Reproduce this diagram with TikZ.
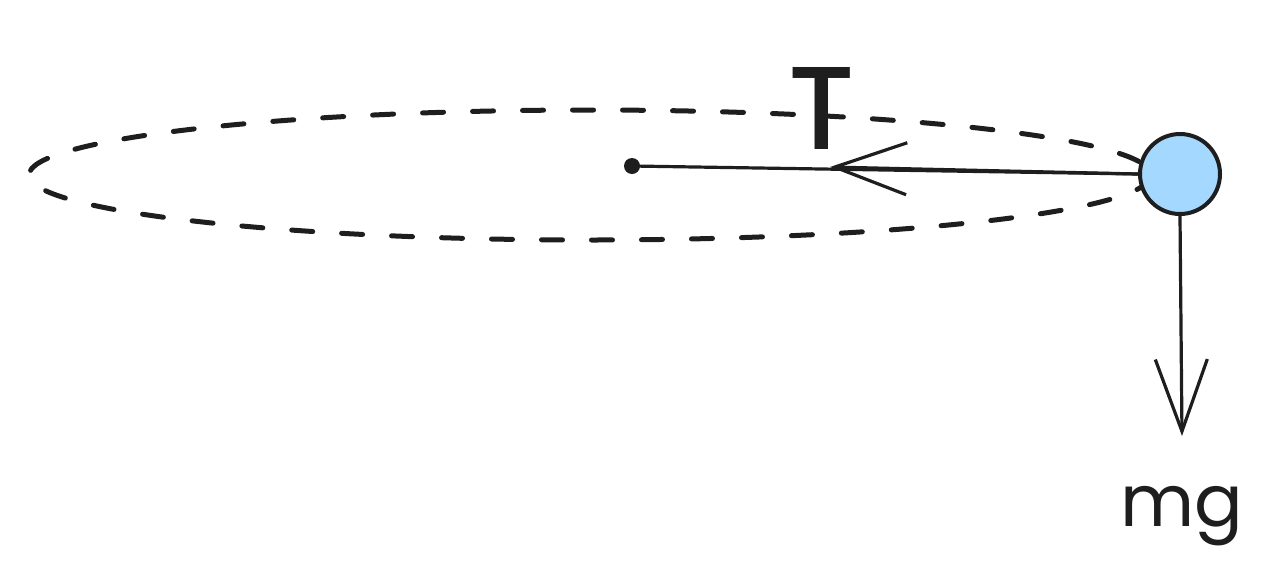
\documentclass[tikz,border=0pt]{standalone}
\usepackage{fontspec}
\setmainfont{Poppins}
\newfontfamily\tfont{Poppins}[UprightFont={* Medium}]
\usetikzlibrary{arrows.meta}
\definecolor{ink}{HTML}{1E1E1E}
\definecolor{ballblue}{HTML}{A5D8FF}
\tikzset{
  orbit/.style={draw=ink, line width=5pt, dash pattern=on 21pt off 29pt, line cap=round},
  force/.style={draw=ink, line width=3.2pt, -{Straight Barb[length=72pt,width=52pt,line width=3.2pt]}},
  rope/.style={draw=ink, line width=3.2pt},
  ball/.style={circle, draw=ink, fill=ballblue, line width=4pt, minimum size=80pt, inner sep=0pt},
  lbl/.style={text=ink, inner sep=0pt}
}
\begin{document}
\begin{tikzpicture}[x=1pt,y=-1pt]
\useasboundingbox (0,0) rectangle (1270,582);
\draw[orbit] (590,175) ellipse [x radius=561, y radius=65];
\node[ball] (m) at (1180,174) {};
\fill[ink] (632,166) circle (8pt);
\coordinate (c) at (632,166);
\coordinate (thead) at (830,167);
\coordinate (ghead) at (1182,436);
\draw[rope] (c) -- (m.west);
\draw[force] (m.west) -- (thead);
\draw[force] (m.south) -- (ghead);
\node[lbl, font=\tfont\fontsize{118}{118}\selectfont, anchor=base] (T) at (822,149) {T};
\node[lbl, font=\fontsize{72}{72}\selectfont, anchor=base] (mg) at (1182,526) {mg};
\end{tikzpicture}
\end{document}
